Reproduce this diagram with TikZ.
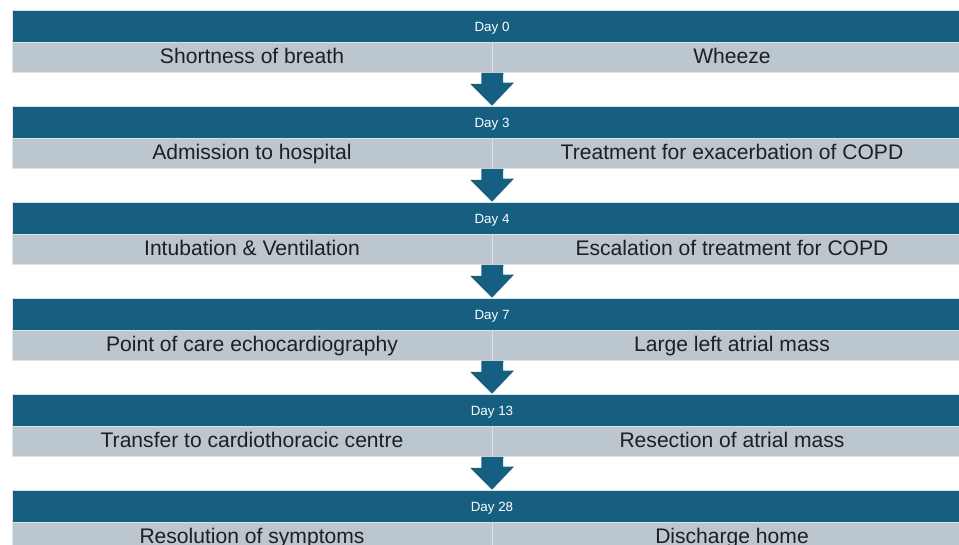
\documentclass[tikz,border=0pt]{standalone}
\usepackage{fontspec}
\setmainfont{Liberation Sans}
\definecolor{daybar}{HTML}{165F80}
\definecolor{cellgrey}{HTML}{BCC6CE}
\definecolor{cellrule}{HTML}{DCE3E8}
\tikzset{
  dayhead/.style={fill=daybar, draw=cellrule, line width=0.4pt, inner sep=0pt,
    minimum width=19.2cm, minimum height=0.65cm, text=white,
    text height=1.3ex, text depth=0.2ex,
    font=\fontsize{7.6}{9}\selectfont},
  cell/.style={fill=cellgrey, draw=cellrule, line width=0.4pt, inner sep=0pt,
    minimum width=9.6cm, minimum height=0.6cm, text=black!88,
    text height=1.45ex, text depth=0.15ex,
    font=\fontsize{12}{14}\selectfont},
  dayarrow/.style={fill=daybar}
}

\begin{document}
\begin{tikzpicture}[x=0.02cm,y=-0.02cm]
\useasboundingbox (0,0) rectangle (959,544);
\fill[white] (0,0) rectangle (959,544);

\node[dayhead] (d0) at (492,26.25) {Day 0};
\node[cell] (l0) at (252,57.5) {Shortness of breath};
\node[cell] (r0) at (732,57.5) {Wheeze};

\node[dayhead] (d3) at (492,122.25) {Day 3};
\node[cell] (l3) at (252,153.5) {Admission to hospital};
\node[cell] (r3) at (732,153.5) {Treatment for exacerbation of COPD};

\node[dayhead] (d4) at (492,218.25) {Day 4};
\node[cell] (l4) at (252,249.5) {Intubation \& Ventilation};
\node[cell] (r4) at (732,249.5) {Escalation of treatment for COPD};

\node[dayhead] (d7) at (492,314.25) {Day 7};
\node[cell] (l7) at (252,345.5) {Point of care echocardiography};
\node[cell] (r7) at (732,345.5) {Large left atrial mass};

\node[dayhead] (d13) at (492,410.25) {Day 13};
\node[cell] (l13) at (252,441.5) {Transfer to cardiothoracic centre};
\node[cell] (r13) at (732,441.5) {Resection of atrial mass};

\node[dayhead] (d28) at (492,506.25) {Day 28};
\node[cell] (l28) at (252,537.5) {Resolution of symptoms};
\node[cell] (r28) at (732,537.5) {Discharge home};

\fill[dayarrow] (l0.south east) ++(11,0) -- ++(-22,0) -- ++(0,11) -- ++(-11,0) -- (d3.north) -- ++(22,-23) -- ++(-11,0) -- cycle;
\fill[dayarrow] (l3.south east) ++(11,0) -- ++(-22,0) -- ++(0,11) -- ++(-11,0) -- (d4.north) -- ++(22,-23) -- ++(-11,0) -- cycle;
\fill[dayarrow] (l4.south east) ++(11,0) -- ++(-22,0) -- ++(0,11) -- ++(-11,0) -- (d7.north) -- ++(22,-23) -- ++(-11,0) -- cycle;
\fill[dayarrow] (l7.south east) ++(11,0) -- ++(-22,0) -- ++(0,11) -- ++(-11,0) -- (d13.north) -- ++(22,-23) -- ++(-11,0) -- cycle;
\fill[dayarrow] (l13.south east) ++(11,0) -- ++(-22,0) -- ++(0,11) -- ++(-11,0) -- (d28.north) -- ++(22,-23) -- ++(-11,0) -- cycle;
\end{tikzpicture}
\end{document}
